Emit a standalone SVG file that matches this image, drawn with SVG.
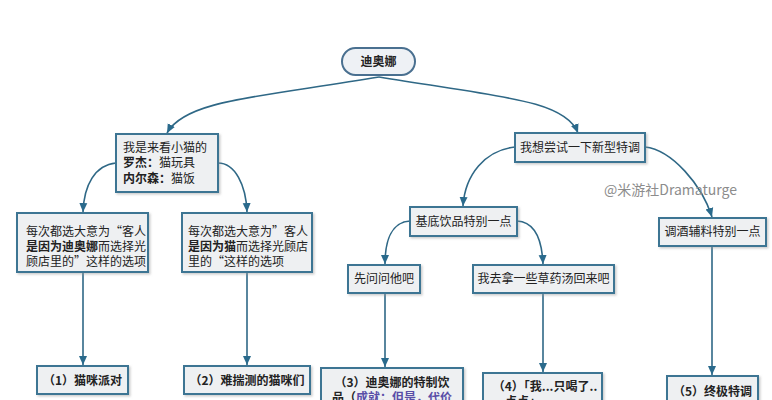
<svg xmlns="http://www.w3.org/2000/svg" width="772" height="400" viewBox="0 0 772 400">
<defs>
<style>
.box{fill:#eef0f2;stroke:#3e7493;stroke-width:2;filter:url(#sh)}
.t{font-family:"Noto Sans CJK SC","Liberation Sans",sans-serif;font-size:12px;fill:#222}
.b{font-weight:bold}
.c{text-anchor:middle}
.ln{fill:none;stroke:#2f6886;stroke-width:1.6}
.wm{font-family:"Noto Sans CJK SC","Liberation Sans",sans-serif;font-size:14px;fill:#8c8c8c}
</style>
<filter id="sh" x="-10%" y="-10%" width="130%" height="140%">
<feDropShadow dx="1.5" dy="1.5" stdDeviation="1" flood-color="#999" flood-opacity="0.5"/>
</filter>
<marker id="ar" markerWidth="10" markerHeight="10" refX="9" refY="5" orient="auto" markerUnits="userSpaceOnUse">
<path d="M0,1 L9,5 L0,9 Z" fill="#2a6a8c"/>
</marker>
</defs>
<rect width="772" height="400" fill="#ffffff"/>

<g id="connectors">
<path class="ln" marker-end="url(#ar)" d="M379,77 C260,97 185,100 167,133"/>
<path class="ln" marker-end="url(#ar)" d="M379,77 C500,97 565,100 578,133"/>
<path class="ln" marker-end="url(#ar)" d="M116,163 C95,165 84,185 83,212"/>
<path class="ln" marker-end="url(#ar)" d="M218,163 C235,163 246,185 247,212"/>
<path class="ln" marker-end="url(#ar)" d="M83,272 V365"/>
<path class="ln" marker-end="url(#ar)" d="M247,272 V365"/>
<path class="ln" marker-end="url(#ar)" d="M515,147 C485,150 465,175 463,206"/>
<path class="ln" marker-end="url(#ar)" d="M645,147 C672,150 702,185 712,217"/>
<path class="ln" marker-end="url(#ar)" d="M410,221 C392,222 385,240 385,264"/>
<path class="ln" marker-end="url(#ar)" d="M517,221 C535,222 542,240 543,264"/>
<path class="ln" marker-end="url(#ar)" d="M385,293 V367"/>
<path class="ln" marker-end="url(#ar)" d="M543,293 V372"/>
<path class="ln" marker-end="url(#ar)" d="M712,246 V375"/>
</g>

<g id="n-diona">
<rect x="342" y="48" width="73" height="27" rx="13.5" fill="#eef1f5" stroke="#4a7090" stroke-width="2"/>
<text class="t b c" x="378.5" y="66">迪奥娜</text>
</g>

<g id="n-cat">
<rect class="box" x="116" y="134" width="102" height="58"/>
<text class="t" x="123" y="152">我是来看小猫的</text>
<text class="t" x="123" y="167"><tspan class="b">罗杰：</tspan>猫玩具</text>
<text class="t" x="123" y="183"><tspan class="b">内尔森：</tspan>猫饭</text>
</g>

<g id="n-a">
<rect class="box" x="17" y="213" width="131" height="59"/>
<text class="t" x="26" y="236">每次都选大意为“客人</text>
<text class="t" x="26" y="251"><tspan class="b">是因为迪奥娜</tspan>而选择光</text>
<text class="t" x="26" y="266">顾店里的”这样的选项</text>
</g>

<g id="n-b">
<rect class="box" x="182" y="213" width="130" height="59"/>
<text class="t" x="188" y="236">每次都选大意为”客人</text>
<text class="t" x="188" y="251"><tspan class="b">是因为猫</tspan>而选择光顾店</text>
<text class="t" x="188" y="266">里的“这样的选项</text>
</g>

<g id="n-1">
<rect class="box" x="37" y="366" width="91" height="28"/>
<text class="t b c" x="82.5" y="385">（1）猫咪派对</text>
</g>

<g id="n-2">
<rect class="box" x="184" y="366" width="126" height="28"/>
<text class="t b c" x="247" y="385">（2）难揣测的猫咪们</text>
</g>

<g id="n-try">
<rect class="box" x="515" y="133" width="130" height="29"/>
<text class="t c" x="580" y="152">我想尝试一下新型特调</text>
</g>

<g id="n-base">
<rect class="box" x="410" y="207" width="107" height="29"/>
<text class="t c" x="463.5" y="226">基底饮品特别一点</text>
</g>

<g id="n-aux">
<rect class="box" x="659" y="218" width="107" height="28"/>
<text class="t c" x="712.5" y="236">调酒辅料特别一点</text>
</g>

<g id="n-ask">
<rect class="box" x="348" y="265" width="72" height="28"/>
<text class="t c" x="384" y="283">先问问他吧</text>
</g>

<g id="n-herb">
<rect class="box" x="473" y="265" width="141" height="28"/>
<text class="t c" x="543.5" y="283">我去拿一些草药汤回来吧</text>
</g>

<g id="n-3">
<rect class="box" x="321" y="368" width="142" height="40"/>
<text class="t b c" x="392" y="387">（3）迪奥娜的特制饮</text>
<text class="t b c" x="392" y="402">品（<tspan fill="#5a4ea8">成就：但是，代价</tspan></text>
</g>

<g id="n-4">
<rect class="box" x="483" y="373" width="119" height="40"/>
<text class="t b c" x="545" y="391">（4）「我...只喝了..</text>
<text class="t b" x="505" y="406">点点」</text>
</g>

<g id="n-5">
<rect class="box" x="667" y="376" width="91" height="40"/>
<text class="t b c" x="712.5" y="396">（5）终极特调</text>
</g>

<text class="wm" x="604" y="195">@米游社Dramaturge</text>
</svg>
